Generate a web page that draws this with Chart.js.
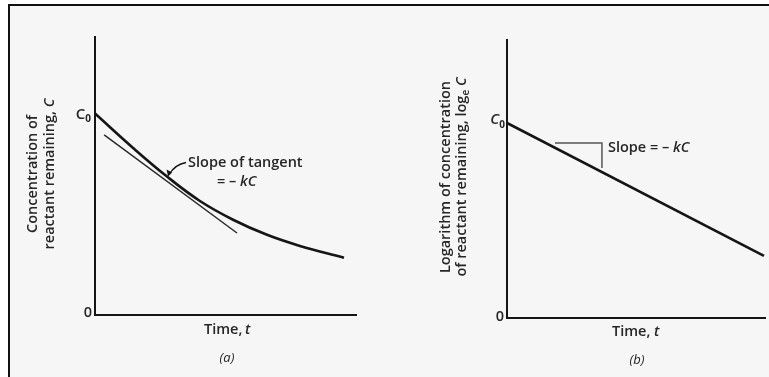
<!DOCTYPE html>
<html>
<head>
<meta charset="utf-8">
<script src="https://cdn.jsdelivr.net/npm/chart.js@4.4.1/dist/chart.umd.min.js"></script>
<style>
  html, body { margin: 0; padding: 0; background: #fff; }
  body { width: 769px; height: 377px; position: relative; overflow: hidden; }
  #frame {
    position: absolute; left: 8px; top: 4px; width: 761px; height: 373px;
    border-top: 2px solid #111; border-left: 2px solid #111; background: #f6f6f6;
  }
  canvas { position: absolute; left: 0; top: 0; }
</style>
</head>
<body>
<div id="frame"></div>
<canvas id="chartA" width="769" height="377"></canvas>
<canvas id="chartB" width="769" height="377"></canvas>
<script>
// panel (a): concentration vs time
const timeA = [0, 1.46, 2.76, 4.02, 5.29, 6.59, 7.85, 9.54];
const concA = [1.0, 0.829, 0.687, 0.566, 0.473, 0.398, 0.343, 0.284];
// tangent drawn through the curve
const tangentT = [0.35, 5.44];
const tangentC = [0.894, 0.407];

// panel (b): log concentration vs time
const timeB = [0, 9.96];
const logB = [0.968, 0.308];
// slope triangle
const triT = [1.86, 3.68, 3.68];
const triV = [0.869, 0.869, 0.745];

// y tick labels (only two)
const tickVals = { a: [0, 1.0], b: [0, 0.968] };

const INK = '#151515';
const TXT = '#262626';
const FONT = '"Open Sans", "DejaVu Sans", sans-serif';
const F = '600 14.5px ' + FONT;
const FI = 'italic 600 14.5px ' + FONT;

function pts(xs, ys) { return xs.map((x, i) => ({ x: x, y: ys[i] })); }

function baseScales() {
  return {
    x: { type: 'linear', min: 0, max: 10,
         grid: { display: false, drawTicks: false },
         ticks: { display: false },
         border: { display: true, color: INK, width: 2 } },
    y: { type: 'linear', min: 0, max: 1.38,
         grid: { display: false, drawTicks: false },
         ticks: { display: false },
         border: { display: true, color: INK, width: 2 } }
  };
}

// C with subscript 0, right aligned at px
function drawC0(ctx, px, py, italic) {
  ctx.save();
  ctx.fillStyle = TXT;
  ctx.textBaseline = 'middle';
  ctx.textAlign = 'right';
  ctx.font = '700 10px ' + FONT;
  ctx.fillText('0', px, py + 5);
  const w0 = ctx.measureText('0').width;
  ctx.font = (italic ? 'italic ' : '') + '600 15px ' + FONT;
  ctx.fillText('C', px - w0, py);
  ctx.restore();
}

function vertLines(ctx, cx, cy, lines, gap) {
  ctx.save();
  ctx.translate(cx, cy);
  ctx.rotate(-Math.PI / 2);
  ctx.fillStyle = TXT;
  ctx.textBaseline = 'middle';
  lines.forEach((parts, i) => {
    // each line is a list of [text, font, dy]
    let w = 0;
    parts.forEach(p => { ctx.font = p[1]; w += ctx.measureText(p[0]).width; });
    let x = -w / 2;
    parts.forEach(p => {
      ctx.font = p[1];
      ctx.textAlign = 'left';
      ctx.fillText(p[0], x, i * gap + (p[2] || 0));
      x += ctx.measureText(p[0]).width;
    });
  });
  ctx.restore();
}

const notesA = {
  id: 'notesA',
  afterDraw(chart) {
    const ctx = chart.ctx, xs = chart.scales.x, ys = chart.scales.y;
    drawC0(ctx, xs.left - 4, ys.getPixelForValue(tickVals.a[1]) + 1, false);
    ctx.save();
    ctx.fillStyle = TXT;
    ctx.font = F;
    ctx.textAlign = 'right'; ctx.textBaseline = 'middle';
    ctx.fillText('0', xs.left - 3, ys.getPixelForValue(tickVals.a[0]) - 2);
    ctx.textAlign = 'left';
    ctx.fillText('Time,', 204, 330);
    ctx.font = FI;
    ctx.fillText('t', 245, 330);
    ctx.font = 'italic 13px ' + FONT;
    ctx.textAlign = 'center';
    ctx.fillText('(a)', 227, 358);
    // label + arrow
    const tx = xs.getPixelForValue(timeA[2]), ty = ys.getPixelForValue(concA[2]);
    ctx.font = F; ctx.textAlign = 'left';
    ctx.fillText('Slope of tangent', tx + 21, ty - 14);
    ctx.fillText('= \u2013 ', tx + 50, ty + 5);
    const w = ctx.measureText('= \u2013 ').width;
    ctx.font = FI;
    ctx.fillText('kC', tx + 50 + w, ty + 5);
    ctx.strokeStyle = INK; ctx.lineWidth = 1.5;
    ctx.beginPath();
    ctx.moveTo(tx + 19, ty - 14);
    ctx.quadraticCurveTo(tx + 8, ty - 12, tx + 2, ty - 2);
    ctx.stroke();
    ctx.beginPath();
    ctx.moveTo(tx + 1, ty);
    ctx.lineTo(tx - 0.5, ty - 7);
    ctx.lineTo(tx + 5, ty - 4);
    ctx.closePath(); ctx.fillStyle = INK; ctx.fill();
    ctx.restore();
    vertLines(ctx, 33, 174, [
      [['Concentration of', F]],
      [['reactant remaining, ', F], ['C', FI]]
    ], 17);
  }
};

const notesB = {
  id: 'notesB',
  afterDraw(chart) {
    const ctx = chart.ctx, xs = chart.scales.x, ys = chart.scales.y;
    drawC0(ctx, xs.left - 2, ys.getPixelForValue(tickVals.b[1]) - 3, true);
    ctx.save();
    ctx.fillStyle = TXT;
    ctx.font = F;
    ctx.textAlign = 'right'; ctx.textBaseline = 'middle';
    ctx.fillText('0', xs.left - 3, ys.getPixelForValue(tickVals.b[0]) - 1);
    ctx.textAlign = 'left';
    ctx.fillText('Time,', 612, 332);
    ctx.font = FI;
    ctx.fillText('t', 654, 332);
    ctx.font = 'italic 13px ' + FONT;
    ctx.textAlign = 'center';
    ctx.fillText('(b)', 637, 360);
    const sx = xs.getPixelForValue(triT[1]), sy = ys.getPixelForValue(triV[0]);
    ctx.font = F; ctx.textAlign = 'left';
    ctx.fillText('Slope = \u2013 ', sx + 6, sy + 5);
    const w = ctx.measureText('Slope = \u2013 ').width;
    ctx.font = FI;
    ctx.fillText('kC', sx + 6 + w, sy + 5);
    ctx.restore();
    vertLines(ctx, 446, 177, [
      [['Logarithm of concentration', F]],
      [['of reactant remaining, log', F], ['e', '600 10px ' + FONT, 4], [' C', FI]]
    ], 16);
  }
};

new Chart(document.getElementById('chartA'), {
  type: 'line',
  data: {
    datasets: [
      { data: pts(timeA, concA), borderColor: INK, borderWidth: 2.6, pointRadius: 0,
        tension: 0.4, fill: false },
      { data: pts(tangentT, tangentC), borderColor: '#2a2a2a', borderWidth: 1.5, pointRadius: 0, fill: false }
    ]
  },
  options: {
    responsive: false, animation: false,
    layout: { padding: { left: 95, top: 37, right: 413, bottom: 62 } },
    plugins: { legend: { display: false }, tooltip: { enabled: false } },
    scales: baseScales()
  },
  plugins: [notesA]
});

new Chart(document.getElementById('chartB'), {
  type: 'line',
  data: {
    datasets: [
      { data: pts(timeB, logB), borderColor: INK, borderWidth: 2.6, pointRadius: 0, fill: false },
      { data: pts(triT, triV), borderColor: '#555', borderWidth: 1.5, pointRadius: 0, fill: false }
    ]
  },
  options: {
    responsive: false, animation: false,
    layout: { padding: { left: 507, top: 40, right: 4, bottom: 59 } },
    plugins: { legend: { display: false }, tooltip: { enabled: false } },
    scales: baseScales()
  },
  plugins: [notesB]
});
</script>
</body>
</html>
